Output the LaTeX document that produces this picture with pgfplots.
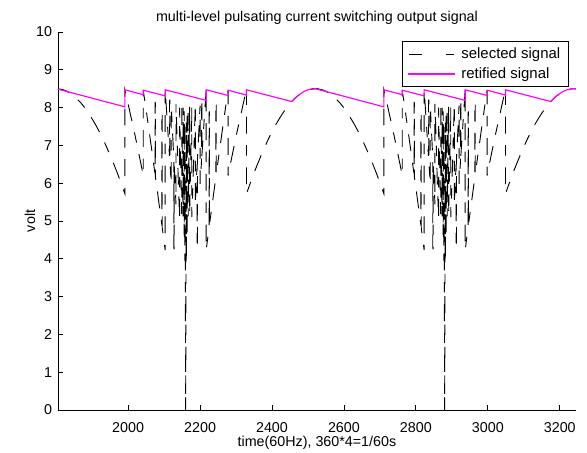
\documentclass[border=0pt]{standalone}
\usepackage{fontspec}
\setmainfont{Liberation Sans}
\usepackage{pgfplots}
\usepackage{pgfplotstable}
\pgfplotsset{compat=1.18}
\definecolor{mag}{RGB}{255,0,255}

% selected signal over one period (t = time - period start)
\pgfplotstableread{
t v
-10 8.49
0 8.50
10 8.49
20 8.47
30 8.43
40 8.37
50 8.30
60 8.21
70 8.11
80 7.99
90 7.85
100 7.70
110 7.54
120 7.36
130 7.17
140 6.96
150 6.74
160 6.51
170 6.27
180 6.01
191 5.72
191 8.47
195 8.31
200 8.10
205 7.88
210 7.67
215 7.45
220 7.23
225 7.00
230 6.77
235 6.54
242 6.20
242 8.46
247 8.14
252 7.81
257 7.48
262 7.13
267 6.79
272 6.44
275 6.23
275 8.15
276 8.10
276 6.16
277 6.09
282 5.74
287 5.38
292 5.03
294 4.88
294 7.90
295 7.85
295 4.81
297 4.67
303 4.23
303 8.47
306 8.04
308 7.75
313 7.01
315 6.72
315 8.20
316 8.20
316 6.57
320 5.98
320 8.05
323 7.46
326 6.85
327 6.70
327 4.30
328 4.25
328 6.50
330 6.13
333 5.44
333 8.10
336 7.22
340 5.90
343 5.10
343 8.00
346 6.59
349 5.18
349 8.05
351 6.58
353 5.12
353 8.00
355 5.71
356 4.57
356 7.90
357 5.90
358 3.95
358 7.60
359 3.80
360 0.00
361 3.80
362 7.60
362 3.95
363 5.90
364 7.90
364 4.57
365 5.71
367 8.00
367 5.12
369 6.58
371 8.05
371 5.18
374 6.59
377 8.00
377 5.10
380 5.90
384 7.22
387 8.10
387 5.44
390 6.13
392 6.50
392 4.25
393 4.30
393 6.70
394 6.85
397 7.46
400 8.05
400 5.98
404 6.57
404 8.20
405 8.20
405 6.72
407 7.01
412 7.75
414 8.04
417 8.47
417 4.23
423 4.67
425 4.81
425 7.85
426 7.90
426 4.88
428 5.03
433 5.38
438 5.74
443 6.09
444 6.16
444 8.10
445 8.15
445 6.23
448 6.44
453 6.79
458 7.13
463 7.48
468 7.81
473 8.14
478 8.46
478 6.20
485 6.54
490 6.77
495 7.00
500 7.23
505 7.45
510 7.67
515 7.88
520 8.10
525 8.31
529 8.47
529 5.72
540 6.01
550 6.27
560 6.51
570 6.74
580 6.96
590 7.17
600 7.36
610 7.54
620 7.70
630 7.85
640 7.99
650 8.11
660 8.21
670 8.30
680 8.37
690 8.43
700 8.47
710 8.49
720 8.50
730 8.49
}\seltab

\pgfplotstableread{
x v
1790 8.49
1800 8.50
1991 8.02
1991 8.47
2042 8.34
2042 8.46
2103 8.31
2103 8.47
2217 8.19
2217 8.47
2278 8.32
2278 8.46
2329 8.33
2329 8.47
2455 8.16
2460 8.21
2470 8.30
2480 8.37
2490 8.43
2500 8.47
2510 8.49
2520 8.50
2711 8.02
2711 8.47
2762 8.34
2762 8.46
2823 8.31
2823 8.47
2937 8.19
2937 8.47
2998 8.32
2998 8.46
3049 8.33
3049 8.47
3175 8.16
3180 8.21
3190 8.30
3200 8.37
3210 8.43
3220 8.47
3230 8.49
3240 8.50
3255 8.46
}\rettab

\begin{document}
\begin{tikzpicture}
\useasboundingbox (-44.6pt,-33.1pt) rectangle (407pt,315.4pt);
\begin{axis}[
  at={(0,0)}, anchor=south west,
  scale only axis, width=398.5pt, height=290.8pt,
  xmin=1805, xmax=3245, ymin=0, ymax=10,
  axis lines=left, axis line style={-, line width=0.6pt},
  tick align=inside, major tick length=3.5pt,
  tick style={line width=0.6pt, black},
  xtick={2000,2200,...,3200}, ytick={0,1,...,10},
  scaled x ticks=false,
  /pgf/number format/assume math mode=true,
  /pgf/number format/1000 sep={},
  tick label style={font=\fontsize{11}{13}\selectfont},
  xticklabel style={yshift=-6.5pt},
  yticklabel style={xshift=-1pt},
  title={multi-level pulsating current switching output signal},
  title style={at={([yshift=4.8pt]axis description cs:0.5,1)}, anchor=center, font=\fontsize{11}{13}\selectfont},
  xlabel={time(60Hz), 360*4=1/60s},
  xlabel style={at={([yshift=-25pt]axis description cs:0.5,0)}, anchor=center, font=\fontsize{11}{13}\selectfont},
  ylabel={volt},
  ylabel style={at={([xshift=-21.5pt]axis description cs:0,0.5)}, anchor=center, font=\fontsize{11}{13}\selectfont},
  legend style={at={(axis description cs:0.9865,0.9762)}, anchor=north east,
    draw=black, fill=white,
    font=\fontsize{11.5}{13}\selectfont,
    inner xsep=4.5pt, inner ysep=3pt, row sep=1.3pt, column sep=3pt},
  legend cell align=left,
]
\addplot[draw=black, line width=0.7pt, dash pattern=on 13pt off 9pt on 8pt off 9pt,
  legend image code/.code={\draw[draw=black, line width=0.7pt, dash pattern=on 10pt off 19pt on 6pt off 10pt] (0pt,0pt) -- (35pt,0pt);}]
  table[x expr=\thisrow{t}+1800, y=v] {\seltab};
\addlegendentry{selected signal}
\addplot[draw=black, line width=0.7pt, dash pattern=on 13pt off 9pt on 8pt off 9pt, forget plot]
  table[x expr=\thisrow{t}+2520, y=v] {\seltab};
\addplot[draw=mag, color=mag, line width=0.9pt, solid,
  legend image code/.code={\fill[mag] (0pt,-0.4pt) rectangle (35pt,0.4pt);}]
  table[x=x, y=v] {\rettab};
\addlegendentry{retified signal}
\end{axis}
\end{tikzpicture}
\end{document}
